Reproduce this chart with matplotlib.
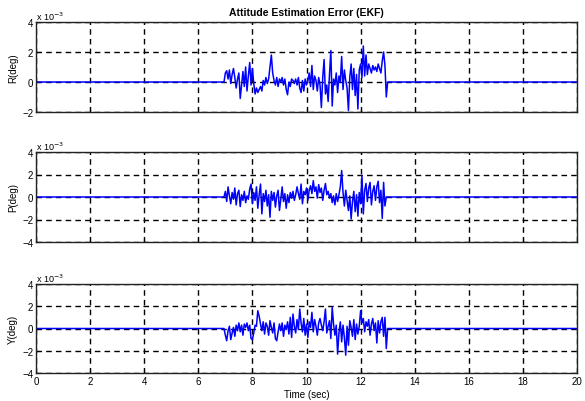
import numpy as np
import matplotlib
matplotlib.use("Agg")
import matplotlib.pyplot as plt

# Active-window samples (t = 6.95 ... 12.95, step 0.05), in units of 1e-3 deg
t_start, t_end, t_step = 6.95, 12.95, 0.05
roll_err = [0.0, 0.6, 0.75, 0.2, 0.8, -0.1, 0.5, 0.9, 0.3, -0.4, 0.2, 0.6,
            -1.1, -0.2, 0.7, -0.3, 1.0, -0.6, 0.4, 1.3, -0.2, 0.9,
            -0.1, -0.8, -0.4, -0.7, -0.5, -0.3, -0.6, 0.1, -0.2, 0.3,
            -0.1, 0.2, 1.0, 1.8, 0.6, 0.1, -0.2, 0.3, -0.3, 0.2,
            0.0, 0.3, -0.2, 0.2, -0.5, -0.85, 0.0, -0.3, 0.2, 0.1,
            -0.1, 0.2, -0.2, 0.3, -0.4, -0.7, 0.1, -0.6, 0.2, -0.2,
            0.1, 0.6, -0.3, 1.1, -0.5, 0.4, 0.1, -0.6, 0.3, -0.2,
            -1.7, 0.3, 1.5, -0.8, -0.2, -1.3, 0.5, 2.1, -1.6, 0.2,
            -0.2, 0.6, -0.7, 0.4, 0.0, 1.7, -0.5, 0.8, 0.1, -0.4,
            -1.9, 0.3, 1.2, -0.5, 0.9, -0.9, 0.5, -1.8, 0.8, 1.2,
            0.3, 2.4, 0.4, 1.8, 0.5, 1.2, 0.9, 0.6, 1.1, 0.8,
            1.0, 0.7, 1.2, 0.9, 0.6, 1.4, 2.0, 1.1, -1.0]
pitch_err = [0.0, 0.5, -0.4, 0.9, 0.1, -0.6, 0.4, -0.2, 0.8, -0.7, 0.3, 0.6,
             -0.85, 0.2, -0.3, 0.5, -0.5, 0.1, -0.2, 0.7, 1.15, -0.6,
             0.4, -0.3, 0.9, -1.0, 0.2, 1.15, -1.5, 0.3, -0.4, 0.6,
             -0.8, 0.2, -1.8, 0.5, -0.3, 0.4, -0.9, 0.1, 0.6, -1.2,
             -0.2, 0.9, -0.4, 0.3, -1.0, 0.2, -0.5, 0.4, -0.1, 0.5,
             -0.3, 0.2, 0.9, 0.3, -0.2, 1.15, -0.6, 0.5, 0.2, 0.8,
             -0.3, 0.6, 1.0, 0.3, 1.45, 0.5, 0.9, -0.1, 1.1, 0.4,
             0.8, -0.3, 0.6, 1.2, 0.2, 0.5, -0.1, 0.3, -0.5, 0.1,
             -0.7, 0.3, -0.4, 0.2, 0.9, 2.35, 0.4, -0.8, 0.6, -0.3,
             -1.2, 0.1, -1.95, -0.4, 0.5, -1.3, 0.2, -1.7, 0.4, -0.6,
             1.9, -1.5, 0.6, 1.2, -0.4, 0.8, 1.3, -0.7, 0.5, 1.0,
             -0.3, 0.9, 1.4, -0.5, 0.6, -1.9, 1.3, -0.8, 0.0]
yaw_err = [0.0, -0.6, -1.1, -0.2, 0.2, -1.0, -0.4, 0.1, -0.7, 0.3, -0.2, 0.5,
           -0.3, 0.3, -0.6, 0.4, 0.1, 0.5, -0.2, 0.3, -0.9, -1.0,
           -0.4, 0.3, 0.2, 1.6, 1.1, 0.4, -0.2, 0.6, -0.5, 0.5,
           0.2, -0.6, 0.7, 0.1, -0.4, 0.5, -0.9, -1.1, -0.3, 0.4,
           -0.2, 0.5, -0.7, 0.3, -0.1, 0.6, -0.5, 1.0, -0.8, 1.3,
           0.2, -0.4, 0.8, -0.1, 1.75, 0.5, -0.3, 0.9, -0.6, 0.4,
           -0.8, 0.6, 0.1, 1.45, -0.3, 0.8, 0.2, -0.6, 0.5, 0.9,
           0.3, -0.2, 0.6, 1.75, -0.4, 0.2, 0.7, -0.9, 1.9, 0.4,
           -0.6, 0.3, -2.3, -0.4, 0.6, -1.2, 0.3, -0.8, -2.4, 0.2,
           -1.5, 0.7, 0.1, -0.7, 0.8, -1.0, 0.4, -0.5, 0.2, 1.6,
           0.5, 0.9, -0.3, 0.6, 0.2, 0.8, -0.6, 0.4, 0.9, -0.2,
           0.5, -1.3, 0.7, -0.4, 0.6, 1.0, -0.7, 1.0, -1.8]

t_before = [0.0, 6.9]
t_after = [13.0, 20.0]

t_active = list(np.round(np.arange(t_start, t_end + 1e-9, t_step), 3))
t = t_before + t_active + t_after

def full(vals):
    return [0.0, 0.0] + list(vals) + [0.0, 0.0]

series = [("R(deg)", full(roll_err), (-2, 4), [-2, 0, 2, 4]),
          ("P(deg)", full(pitch_err), (-4, 4), [-4, -2, 0, 2, 4]),
          ("Y(deg)", full(yaw_err), (-4, 4), [-4, -2, 0, 2, 4])]

plt.rcParams['font.family'] = ['Liberation Sans', 'DejaVu Sans']
fig = plt.figure(figsize=(5.85, 4.02), dpi=100)
fig.patch.set_facecolor('white')

W, H = 585, 402
boxes = [(23, 113), (153, 243), (285, 374)]
left, right = 36, 577

xticks = [0, 2, 4, 6, 8, 10, 12, 14, 16, 18, 20]
for i, ((lab, vals, ylim, yt), (top, bot)) in enumerate(zip(series, boxes)):
    ax = fig.add_axes([left / W, 1 - bot / H, (right - left) / W, (bot - top) / H])
    ax.plot(t, vals, color='#0000ff', lw=1.1)
    ax.set_xlim(0, 20)
    ax.set_ylim(*ylim)
    ax.set_xticks(xticks)
    ax.set_yticks(yt)
    ax.grid(True, color='black', linestyle=(0, (4, 3)), linewidth=1.0)
    ax.tick_params(direction='in', labelsize=7, length=3, width=0.8, pad=2)
    for s in ax.spines.values():
        s.set_linewidth(1.0)
        s.set_color('#222222')
    ax.set_ylabel(lab, fontsize=7, labelpad=3)
    ax.text(0.0, 1.005, r'x 10$^{-3}$', transform=ax.transAxes, fontsize=6.5,
            ha='left', va='bottom')
    if i < 2:
        ax.set_xticklabels([])
    else:
        ax.set_xlabel('Time (sec)', fontsize=7, labelpad=2)
    if i == 0:
        ax.set_title('Attitude Estimation Error (EKF)', fontsize=7.5,
                     fontweight='bold', pad=5)

fig.savefig('out.png', dpi=100, facecolor='white')
